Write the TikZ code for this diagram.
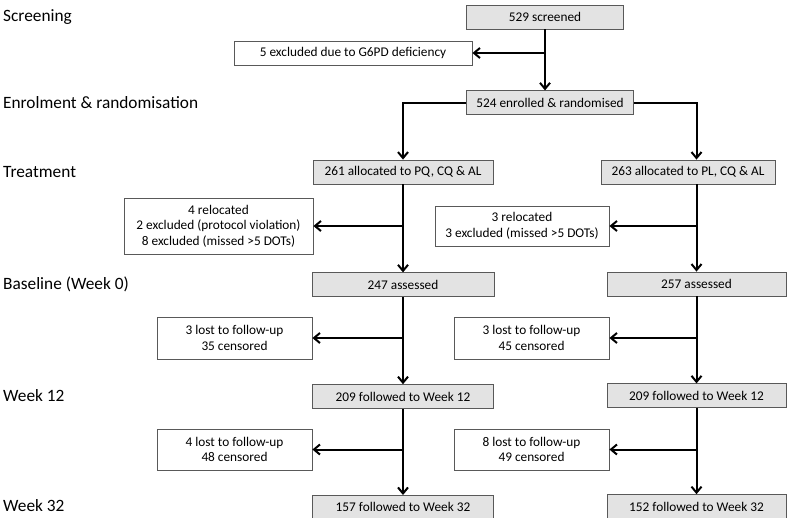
\documentclass[tikz,border=0pt]{standalone}
\usepackage{fontspec}
\setmainfont{Carlito}
\usetikzlibrary{arrows.meta, positioning, calc}
\tikzset{
  mainbox/.style={
    rectangle,
    draw=gray!70!black,
    fill=gray!22,
    line width=0.8pt,
    align=center,
    minimum height=24pt,
    inner sep=2pt,
    font=\fontsize{13.3}{15.5}\selectfont
  },
  exclbox/.style={
    rectangle,
    draw=gray!70!black,
    fill=white,
    line width=0.8pt,
    align=center,
    inner sep=2pt,
    font=\fontsize{13.3}{15.5}\selectfont
  },
  stage/.style={anchor=west, inner sep=0pt, font=\fontsize{17.3}{20}\selectfont},
  arrow/.style={-{Straight Barb[length=6pt, width=10pt, line width=2pt]}, line width=2pt},
  line/.style={line width=2pt}
}
\begin{document}
\begin{tikzpicture}[x=1pt, y=-1pt]
  \useasboundingbox (0,0) rectangle (799,517);
  \clip (0,0) rectangle (799,517);

  % stages
  \node[stage] (lscreen) at (3,17) {Screening};
  \node[stage] (lenrol) at (3,103) {Enrolment \& randomisation};
  \node[stage] (ltreat) at (3,172) {Treatment};
  \node[stage] (lbase) at (3,284) {Baseline (Week 0)};
  \node[stage] (lwk12) at (3,396) {Week 12};
  \node[stage] (lwk32) at (3,506) {Week 32};

  % screening and enrolment
  \node[mainbox, minimum width=157pt] (screened) at (545,17) {529 screened};
  \node[exclbox, minimum width=238pt, minimum height=24pt] (exg6pd) at (353,53) {5 excluded due to G6PD deficiency};
  \node[mainbox, minimum width=167pt, below=61pt of screened, xshift=5pt] (enrol) {524 enrolled \& randomised};

  % PQ arm
  \node[mainbox, minimum width=180pt] (allocpq) at (403,172) {261 allocated to PQ, CQ \& AL};
  \node[exclbox, minimum width=189pt, minimum height=56pt] (expq) at (218.5,226) {4 relocated\\2 excluded (protocol violation)\\8 excluded (missed >5 DOTs)};
  \node[mainbox, minimum width=182pt, below=88pt of allocpq] (basepq) {247 assessed};
  \node[exclbox, minimum width=155pt, minimum height=42pt] (lostpqa) at (234.5,338) {3 lost to follow-up\\35 censored};
  \node[mainbox, minimum width=181pt, below=87pt of basepq] (wk12pq) {209 followed to Week 12};
  \node[exclbox, minimum width=155pt, minimum height=41pt] (lostpqb) at (234.5,449.5) {4 lost to follow-up\\48 censored};
  \node[mainbox, minimum width=181pt, below=86pt of wk12pq] (wk32pq) {157 followed to Week 32};

  % PL arm
  \node[mainbox, minimum width=174pt] (allocpl) at (688,172) {263 allocated to PL, CQ \& AL};
  \node[exclbox, minimum width=174pt, minimum height=40pt] (expl) at (522,226) {3 relocated\\3 excluded (missed >5 DOTs)};
  \node[mainbox, minimum width=179pt] (basepl) at (696.5,284) {257 assessed};
  \node[exclbox, minimum width=155pt, minimum height=42pt] (lostpla) at (531.5,338) {3 lost to follow-up\\45 censored};
  \node[mainbox, minimum width=179pt, below=87pt of basepl] (wk12pl) {209 followed to Week 12};
  \node[exclbox, minimum width=155pt, minimum height=41pt] (lostplb) at (531.5,449.5) {8 lost to follow-up\\49 censored};
  \node[mainbox, minimum width=179pt, below=86pt of wk12pl] (wk32pl) {152 followed to Week 32};

  % connectors
  \draw[arrow] (screened.south) -- (screened.south |- enrol.north);
  \draw[arrow] (screened.south |- exg6pd) -- (exg6pd.east);
  \draw[arrow] (enrol.west) -| (allocpq.north);
  \draw[arrow] (enrol.east) -| (allocpl.north -| basepl.north);

  \draw[arrow] (allocpq) -- (basepq);
  \draw[arrow] (allocpq.south |- expq) -- (expq.east);
  \draw[arrow] (basepq) -- (wk12pq);
  \draw[arrow] (basepq.south |- lostpqa) -- (lostpqa.east);
  \draw[arrow] (wk12pq) -- (wk32pq);
  \draw[arrow] (wk12pq.south |- lostpqb) -- (lostpqb.east);

  \draw[arrow] (allocpl.south -| basepl.north) -- (basepl.north);
  \draw[arrow] (basepl.north |- expl) -- (expl.east);
  \draw[arrow] (basepl) -- (wk12pl);
  \draw[arrow] (basepl.south |- lostpla) -- (lostpla.east);
  \draw[arrow] (wk12pl) -- (wk32pl);
  \draw[arrow] (wk12pl.south |- lostplb) -- (lostplb.east);
\end{tikzpicture}
\end{document}
